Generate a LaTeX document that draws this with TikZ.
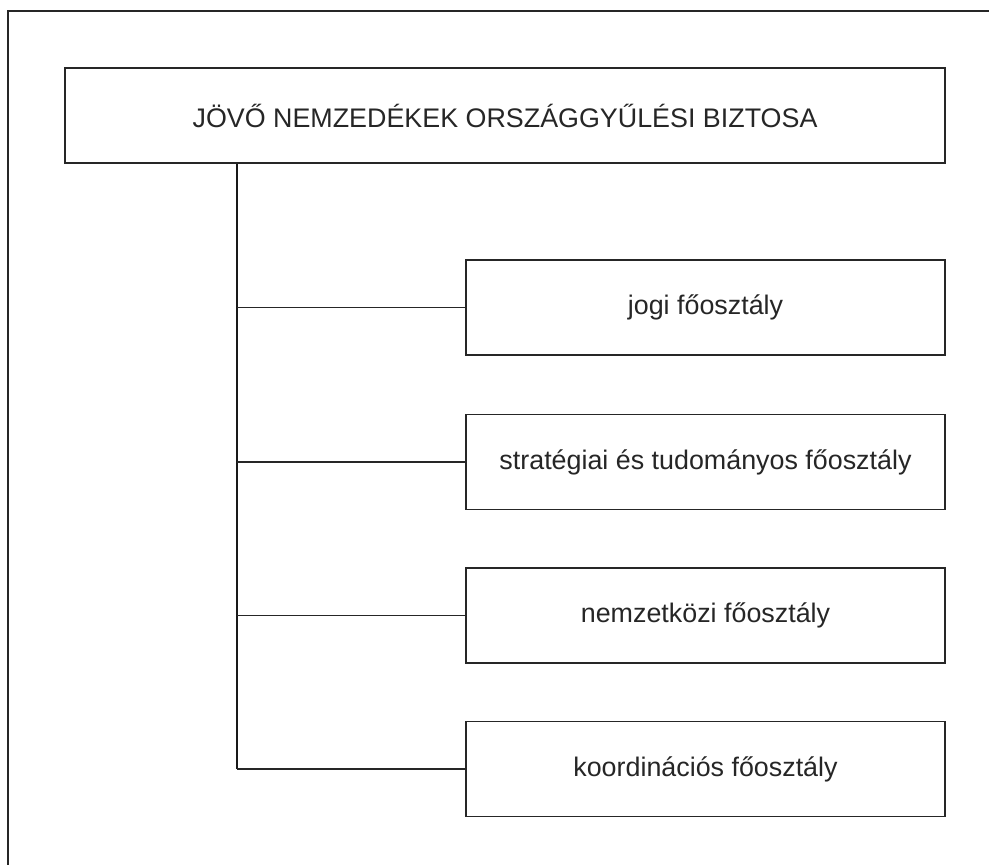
\documentclass[tikz,border=0pt]{standalone}
\usepackage{fontspec}
\setmainfont{Liberation Sans}
\usepackage{tikz}
\usetikzlibrary{positioning}

\tikzset{
    unitbox/.style = {draw=black!85, line width=1.05pt, rectangle, inner sep=0pt,
                      minimum height=2.375cm, align=center,
                      font=\fontsize{19.1}{23}\selectfont, text=black!85},
    chiefbox/.style = {unitbox, minimum width=22cm},
    deptbox/.style  = {unitbox, minimum width=11.975cm},
    trunkline/.style  = {draw=black!90, line width=2.1pt},
    branchline/.style = {draw=black!85, line width=0.95pt},
}

\begin{document}
\begin{tikzpicture}[x=0.025cm, y=-0.025cm]

    %Frame
    \useasboundingbox (0,0) rectangle (989,865);
    \clip (0,0) rectangle (989,865);
    \draw[draw=black!85, line width=1.05pt] (8,900) -- (8,11) -- (1020,11);

    %Boxes
    \node[chiefbox] (Chief) at (505,115.5) {JÖVŐ NEMZEDÉKEK ORSZÁGGYŰLÉSI BIZTOSA};

    \node[deptbox] (Jogi) at (705.5,307.5) {jogi főosztály};
    \node[deptbox, below = 1.45cm of Jogi] (Strategiai) {stratégiai és tudományos főosztály};
    \node[deptbox, below = 1.425cm of Strategiai] (Nemzetkozi) {nemzetközi főosztály};
    \node[deptbox, below = 1.425cm of Nemzetkozi] (Koordinacios) {koordinációs főosztály};

    %Connectors
    \coordinate (TrunkTop) at (237,163);
    \draw[trunkline] (TrunkTop |- Chief.south) -- (TrunkTop |- Koordinacios.west);

    \foreach \dept in {Jogi, Strategiai, Nemzetkozi, Koordinacios}
        \draw[branchline] (TrunkTop |- \dept.west) -- (\dept.west);

\end{tikzpicture}
\end{document}
